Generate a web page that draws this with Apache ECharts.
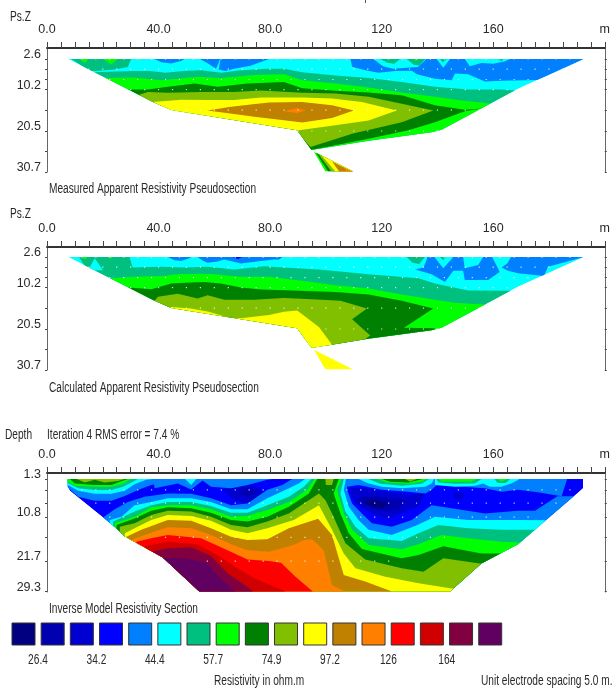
<!DOCTYPE html>
<html><head><meta charset="utf-8">
<style>html,body{margin:0;padding:0;background:#fff}#c{width:613px;height:694px}</style>
<script src="https://cdn.jsdelivr.net/npm/echarts@6/dist/echarts.min.js"></script>
</head><body><div id="c"></div>
<script>
// ---- scale ----
const xTickLabels = {0:'0.0',40:'40.0',80:'80.0',120:'120',160:'160',200:'m'};
const pseudoTicks = [2.6,5.1,7.7,10.2,15.3,20.5,25.6,30.7];
const pseudoLabels = [2.6,10.2,20.5,30.7];
const modelTicks = [1.3,4.05,7.3,10.8,15.8,21.7,29.3];
const modelLabels = [1.3,10.8,21.7,29.3];
const legendValues = ['26.4','34.2','44.4','57.7','74.9','97.2','126','164'];
const C = {navy:'#000080',b1:'#0000B0',b2:'#0000D0',b3:'#0000FF',lb:'#0080FF',cy:'#00FFFF',te:'#00C080',gr:'#00FF00',dk:'#008000',ol:'#80C000',ye:'#FFFF00',br:'#C08000',or:'#FF8000',re:'#FF0000',d0:'#D00000',ma:'#800040',pu:'#600060'};
const legendKeys = ['navy','b1','b2','b3','lb','cy','te','gr','dk','ol','ye','br','or','re','d0','ma','pu'];

// ---- section outlines (distance m, depth) ----
const pseudoOutline = [[7.6,2.6],[38,13.3],[44.5,15.3],[89.7,20.3],[94.8,25.2],[115.3,22.9],[137.9,20.8],[141.5,20.2],[152.2,16.2],[168.9,10],[192.5,2.6]];
const pseudoTail = [[95.6,25.6],[99.8,30.6],[110,30.6]];
const modelOutline = [[7.4,1.3],[7.4,3.2],[8.2,4.2],[20.1,10.9],[25.5,14],[27.9,15.6],[41.5,20.8],[54.6,29.3],[144.5,29.3],[155.8,22.3],[168.9,17.5],[190,5],[192.2,3.6],[192.2,1.3]];

// ---- measured pseudosection contours ----
const m_lb1 = [[38.6,2.6],[41,3.4],[44.5,3.7],[48,3.1],[49.3,2.6]];
const m_lb2 = [[54.9,2.6],[58.2,3.9],[60.6,5],[61.5,3.6],[62,2.6]];
const m_lb3 = [[62.2,2.6],[61.6,5.2],[64,5.6],[67,5],[73,4.3],[79.6,2.6]];
const m_lb4 = [[108.8,2.6],[109.4,4.5],[114.1,5.4],[118.9,6],[124.8,5.6],[130.8,5.5],[132.6,6.4],[139.1,7.5],[145.1,7.9],[146.3,6.2],[151,6.4],[157,8.2],[162.9,8],[176,7.8],[183,5.8],[192.5,2.6]];
const m_cyA = [[117,2.6],[120.5,4.4],[124,5],[129,4.8],[133,4.6],[136,2.6]];
const m_cyB = [[139.7,2.6],[142.1,4.8],[144.5,2.6]];
const m_cyC = [[149.8,2.6],[151.6,4.4],[155.8,3.6],[160,3.8],[164,3.2],[166,2.6]];
const m_teT1 = [[119.5,2.6],[122,3.5],[124.5,3.8],[126.6,2.6]];
const m_teT2 = [[129,2.6],[131.5,4],[133.5,4.2],[135.6,2.6]];
const m_teT3 = [[140.9,2.6],[142,3.4],[143.2,2.6]];
const m_teT4 = [[161.7,2.6],[163,3.2],[163.5,2.6]];
const m_grT2 = [[131.5,2.6],[132.2,3.1],[133,2.6]];
const m_teLeft = [[8.8,2.6],[13,4.5],[15.4,5.7],[24.3,5.2],[29,4.6],[30.2,2.6]];
const m_grL1 = [[11.8,2.6],[13.5,3.6],[15,2.6]];
const m_grL2 = [[20.1,2.6],[23,3.9],[25.5,2.6]];
const m_c1 = [[5,5.4],[16.5,5.9],[31.4,5.6],[37,5.6],[42.5,6],[49,5.6],[55.2,5.4],[62.5,6],[69.5,5.4],[79,5],[85,5],[91.5,5.9],[103.4,6.7],[115.3,7.3],[127.2,8.3],[139.1,9.5],[151,10.2],[162.9,10.2],[169,10.5],[195,10.5]];
const m_c2 = [[15,7.4],[31.4,7.2],[41,7.9],[54,7],[62.5,7.3],[74.5,6.6],[85,6.4],[91.5,7.9],[103.4,8.7],[115.3,9.7],[127.2,10.9],[139.1,12],[148.6,12.9],[158,13.6],[195,13.6]];
const m_dk = [[29.6,10.2],[36.2,10.2],[43.3,9.5],[52.9,8.7],[61.2,9.5],[71.9,8.7],[85,8.3],[91.5,9.9],[103.4,10.5],[115.3,10.9],[127.2,11.6],[139.1,14.1],[149.8,15.2],[155.8,14.9],[149.8,15.6],[139.1,18.3],[129.6,20.3],[115.3,22.4],[94.5,25.2],[88,21],[38,14],[25,10.5]];
const m_ol = [[36.2,10.8],[43.3,11],[55.2,10.8],[67.1,10.8],[76.7,10.4],[91.5,11],[103.4,11.2],[115.3,12],[127.2,13.7],[138.5,15.4],[127.2,18.3],[109.4,21.2],[94.5,24.5],[90,21],[40,15],[33,11.5]];
const m_ye = [[38,13.3],[48.1,12.7],[57.6,12.8],[67.1,12.8],[76.7,12.2],[91.5,12.2],[102.2,12.4],[112.9,13.3],[125.4,15.4],[115.3,17.9],[103.4,19.1],[89.7,20.4],[85,22],[40,17]];
const m_br = [[57.6,15.4],[66,14.5],[73,13.9],[79.6,13.4],[91.5,13.3],[102.2,14.1],[110,15.4],[102.2,17.3],[91.5,18.4],[85,17.8],[75,17],[67,16.3]];
const m_or = [[85,15.6],[89.7,14.8],[92.7,15.4],[89.7,16]];
const m_tailDk = [[96,25.4],[110,30.6],[100.8,30.6]];
const m_tailOl = [[96.6,25.6],[110,30.6],[102,30.6]];
const m_tailYe = [[98,26.2],[110,30.6],[103.4,30.6]];
const m_tailBr = [[102.2,28.1],[110,30.8],[105,30.8]];
const m_tailOr = [[106.4,29.6],[110,30.8],[107.6,30.8]];

// ---- calculated pseudosection contours ----
const c_lb1 = [[43.3,2.6],[45.7,3.4],[48.1,3.6],[50.5,3],[51.7,2.6]];
const c_lb2 = [[54,2.6],[55.9,3.5],[57.6,4],[61.2,3.7],[63.5,3.2],[69.5,4.2],[76.7,3.6],[81.4,3.2],[83.2,3.2],[84.4,2.6]];
const c_b3 = [[66.5,2.6],[68.5,3.1],[70,2.6]];
const c_lb3 = [[132,5.7],[135,5.2],[136.5,2.6],[138.9,2.6],[142.1,5.4],[145.7,2.6],[149.2,2.6],[149.8,5.4],[154.6,4.6],[156.4,2.6],[159.6,2.6],[161.7,5.4],[162.3,6.3],[158.2,8.3],[149.8,8.3],[149.2,6],[145.7,6],[142.7,8.8],[137.9,6.9]];
const c_lb4 = [[166.4,2.6],[165,4.2],[163,5.2],[165.3,6],[168.9,6.6],[178.2,7.3],[179.6,5],[192.5,2.6]];
const c_tePatch = [[129,2.6],[131,4],[133.5,4.3],[135.5,2.6]];
const c_teSmall = [[141,2.6],[142,3.4],[143,2.6]];
const c_teTop = [[11.5,2.6],[29.6,2.6],[30.8,5.4],[14,5.4]];
const c_cyWedge = [[17.1,2.9],[14.8,5.9],[20.1,5.9]];
const c_grA = [[12.5,2.6],[13.5,3.2],[14.5,2.6]];
const c_grB = [[22,2.6],[22.8,3],[23.6,2.6]];
const c_c1 = [[5,5.2],[30.8,5.2],[41,5],[49.3,5.2],[57.6,5],[67.1,5.7],[77.9,4.9],[85,5.2],[97.5,5.7],[115.3,6.9],[133.2,7.9],[139.1,9.2],[151,10.9],[165.3,11],[195,11]];
const c_c2 = [[22.5,7.9],[31.4,7.5],[41,7.3],[48.1,6.8],[58.9,6.8],[69.5,7.5],[79.6,7.5],[91.5,8.5],[103.4,9.6],[115.3,10.4],[127.2,11.9],[139.1,13.2],[146.3,14],[157,14.4],[195,14.4]];
const c_dk = [[29.6,10.2],[37.4,10.6],[44.5,9.2],[49.3,9],[56.4,8.8],[62.4,9.2],[69.5,10.2],[76.9,10.7],[87.9,10.9],[103.4,11.3],[115.3,11.9],[127.2,13.5],[138.5,15.4],[128,20.2],[139,20.3],[139,20.9],[128,22],[115,23],[100,25],[85,21],[40,16],[25,11]];
const c_ol = [[39.8,12.5],[46.9,11.7],[54,12.9],[57.6,12.1],[63.6,13.2],[74.3,13.2],[85,12.8],[95,13.1],[105.2,13.5],[114.7,15.4],[109.4,18.1],[115.9,22.1],[110,25],[100,26],[85,22],[45,17],[38,14]];
const c_ye = [[44.5,15],[51.7,15.4],[58,16.2],[65.9,17.8],[69.5,17.8],[79.6,17],[85,16.2],[89.7,15.9],[97.5,20],[102.2,24.4],[100,26],[88,24],[40,17]];

// ---- inverse model contours ----
const r_d0 = [[63,4],[67.1,3.6],[73.1,2.8],[76.7,4],[77.9,5.3],[73.1,7.4],[69.5,7],[66,6.1]];
const r_b1 = [[68.3,4],[71.9,3.6],[75.5,4.5],[72.5,5.7],[68.9,5]];
const l_strip = [[38,1.3],[38.6,3.6],[46.9,2.4],[51.7,3.9],[55.8,1.7],[58.8,3.2],[66,3.6],[71.9,2.8],[79,1.5],[80.8,1.3]];
const l_wedge = [[49.5,1.3],[51.7,2.8],[53.5,1.3]];
const l_rb = [[7,3.2],[11.2,5.7],[17.1,6.7],[23.1,6.7],[27.9,5.5],[32.6,4.05],[37.4,2.8],[42.7,2],[45.7,1.3],[7,1.3]];
const l_rc = [[7,2.6],[11.2,4.2],[17.1,5],[23.1,5],[27.9,4.2],[31.4,2.6],[35.6,1.5],[38,1.3],[7,1.3]];
const l_rt = [[7,2.2],[11.2,3.6],[17.1,4.05],[23.1,4.05],[27.3,3.2],[30.8,2],[32.6,1.3],[7,1.3]];
const l_rg = [[7,1.8],[10,3],[17.1,3.2],[23.1,3.2],[26.7,2.6],[29.6,1.5],[30.8,1.3],[7,1.3]];
const l_rd = [[8.2,1.3],[10,2.4],[17.1,2.8],[23.1,2.8],[26.1,2],[29,1.3]];
const l_ro = [[10.6,1.3],[13.6,2.2],[17.1,1.5],[20.7,2.2],[25.5,1.8],[27.9,1.3]];
const k_lb = [[15,10.9],[20.1,10.9],[24.3,8.85],[29,7],[35,5.7],[43.3,4.9],[51.7,5],[58.8,6.1],[66,7.8],[71.9,7.4],[79,4],[84.4,2.8],[87.9,1.3],[107.6,1.3],[107.6,4],[109.4,7.4],[112.9,9.85],[116.5,12.3],[123.6,13.15],[130.8,11.5],[137.9,7.8],[145.1,8.6],[157,9.85],[168.9,9.2],[175,9.2],[183,5.6],[195,5.6]];
const k_cy = [[22.5,11.5],[26.7,10.7],[31.4,7.8],[37.4,7],[43.3,6.1],[51.7,6.1],[58.8,7],[66,8.85],[71.9,8.85],[79,6.1],[85.6,4],[90.3,2.4],[92.5,1.3],[107.2,1.3],[106.4,4],[108.2,8.2],[111.7,11.5],[115.3,13.95],[123.6,15.25],[132,13],[139.1,10.7],[151,11.5],[162.9,11.5],[168.9,11.5],[195,11.6]];
const k_te = [[23.7,11.9],[31.4,9.4],[37.4,7.8],[43.3,7],[51.7,7],[58.8,8],[66,9.7],[71.9,9.7],[79,7.8],[86.7,5.7],[92.1,3.2],[94.8,1.3],[106.4,1.3],[105.2,4.9],[107,9.4],[110.6,13.15],[115.3,16.05],[127.2,16.7],[133.2,14.8],[140.3,12.75],[151,13.55],[162.9,13.95],[168.9,13.95],[195,13.95]];
const k_gr = [[24.3,12.3],[31.4,10.7],[37.4,8.35],[43.3,7.8],[51.7,7.8],[58.8,8.85],[66,10.7],[71.9,10.5],[79,9],[86.7,7],[93.3,4],[95.9,1.3],[105.6,1.3],[104,4],[106.4,9.85],[109.4,13.95],[115.3,17.7],[127.2,18.8],[133.2,17.5],[141.5,15.25],[151,16.05],[162.9,16.9],[168.9,17.1],[195,17.1]];
const k_dk = [[24.9,12.75],[31.4,11.1],[37.4,9.2],[43.3,8.35],[51.7,8.6],[58.8,9.7],[66,11.5],[71.9,11.9],[79,10.7],[86.7,8.2],[93.9,4.9],[96.9,1.3],[104.6,1.3],[102.8,4.9],[105.2,9.85],[108.2,14.8],[112.9,18.7],[123.6,20.45],[127.2,21],[133.2,20.2],[142.1,18],[155.8,19.8],[175,19.8]];
const k_ol = [[26.1,13.15],[31.4,12.3],[37.4,10.25],[43.3,9.2],[51.7,9.4],[58.8,10.7],[66,12.75],[71.9,13.3],[79,11.9],[86.7,9.85],[97.5,4.9],[99.8,6.5],[102.2,9.85],[107,17.3],[114.1,21.3],[127.2,23.5],[135,24.35],[142.1,21],[155.2,22.3],[175,22.3]];
const k_olTop = [[99.8,1.3],[102.8,1.3],[102.2,2.8],[100,2.8]];
const k_ye = [[27.9,14.8],[31.4,13.55],[37.4,11.5],[43.3,10.25],[51.7,10.5],[58.8,11.7],[66,13.95],[71.9,14.8],[79,13.55],[88.5,11.5],[97.5,7.8],[102.2,13.95],[106.4,19.8],[110.6,23.5],[121.3,25.6],[133.2,27.25],[145.1,28.5],[150,28.5]];
const k_br = [[28.5,15.65],[33.8,13.95],[43.3,11.5],[51.7,11.7],[58.8,13.55],[66,15.65],[71.9,16.5],[79,16.3],[86.7,13.55],[97.2,11.2],[102.2,15.25],[106.4,25.2],[114.1,26.8],[123,29.1],[125,30]];
const k_or = [[30.2,16.5],[35,15.25],[43.3,13.3],[51.7,13.55],[58.8,15.25],[66,17.5],[71.9,19],[79.6,19.4],[85.6,18.3],[89.1,17.5],[92.1,16.5],[95,16.3],[99.2,19],[102.2,27.7],[106.4,29.1],[107,30]];
const k_re = [[32,16.9],[37.4,16.05],[43.3,15.25],[55.2,16.05],[61.8,18.1],[71.9,21.3],[79.6,21.7],[83.9,22.1],[89.1,25.6],[95,29.1],[96,30]];
const k_d0 = [[35,18],[43.3,16.9],[54,17.5],[60.6,20],[68.3,23.5],[74.3,26],[85,29.1],[86,30]];
const k_ma = [[37.4,19.4],[43.3,18.55],[51.7,18.3],[58.8,20.45],[64.8,24.75],[73.7,29.1],[74,30]];
const k_pu = [[41.5,20.8],[49.3,21],[57.6,22.1],[61.8,25.6],[67.1,29.1],[68,30]];
const q_d0 = [[108.2,3.6],[114.1,3.6],[121.3,4.45],[129.6,5.3],[135.6,4.9],[133.2,8.2],[129.6,9],[122.5,11.1],[116.5,9.85],[110.6,7.4]];
const q_b1 = [[111.7,6.1],[115.3,5.3],[122.5,6.1],[128.4,6.5],[126,9],[121.3,9.4],[116.5,8.6]];
const q_na = [[112.3,7],[117.7,6.5],[122.5,7.4],[120.1,8.6],[116.5,8.2]];
const q_small = [[145.7,4.45],[149.8,4.9],[148.6,6.5],[145.7,6.1]];
const q_strip = [[107.6,1.3],[107.6,3.2],[111.7,2.8],[120.1,4],[129.6,4.45],[135.6,4.9],[137.9,4],[139.7,2.8],[157,3.6],[162.9,4.45],[168.9,4],[176,4.6],[184.5,5.6],[186.5,1.3]];
const q_c1 = [[111.7,1.3],[115.3,2.4],[120.1,3.2],[127.2,3.6],[135.6,3.2],[137.9,2.4],[138.8,1.3]];
const q_t1 = [[115.3,1.3],[119.5,2.5],[127.2,3],[134.4,2.5],[137,1.3]];
const q_g1 = [[118.3,1.3],[121.9,2.2],[129.6,2.5],[134.4,2],[136.1,1.3]];
const q_d1 = [[120.1,1.3],[123,2],[129.6,2.2],[133.2,1.55],[134.6,1.3]];
const q_o1 = [[128.4,1.3],[130.2,2],[132.6,1.3]];
const q_c2 = [[139.1,1.3],[139.1,2.8],[146.3,3.2],[153.4,3],[156.4,2.4],[158.8,3.2],[162.9,3.2],[166.5,2.4],[168.9,1.55],[169.3,1.3]];
const q_t2 = [[139.7,1.3],[140.3,2.2],[146.3,2.5],[153.4,2.4],[155.8,1.3]];
const q_g2 = [[140.3,1.3],[141.5,2],[152.2,2],[154,1.3]];
const q_t3 = [[160.5,1.3],[161.5,2.3],[164.5,2.3],[166,1.3]];
const q_g3 = [[161.5,1.3],[163,1.9],[165,1.3]];

// ---- data point rows: depth, first x, last x ----
const pseudoRows = [[2.6,12.5,187.5],[5.1,15,185],[7.7,22.5,177.5],[10.2,30,170],[15.3,45,155],[20.5,90,140]];
const modelRows = [[4,12.5,187.5],[7.3,17.5,182.5],[10.8,22.5,172.5],[15.8,42.5,142.5],[21.7,57.5,122.5]];
const electrodeStep = 5;

const below = c => c.concat([[c[c.length-1][0],33],[c[0][0],33]]);
const L = (key, pts, clip) => ({fill:C[key], pts, clip});

const measuredLayers = [
  L('cy',pseudoOutline,pseudoOutline),
  ...[m_lb1,m_lb2,m_lb3,m_lb4].map(p=>L('lb',p,pseudoOutline)),
  ...[m_cyA,m_cyB,m_cyC].map(p=>L('cy',p,pseudoOutline)),
  ...[m_teT1,m_teT2,m_teT3,m_teT4,m_teLeft].map(p=>L('te',p,pseudoOutline)),
  ...[m_grT2,m_grL1,m_grL2].map(p=>L('gr',p,pseudoOutline)),
  L('te',below(m_c1),pseudoOutline), L('gr',below(m_c2),pseudoOutline),
  L('dk',m_dk,pseudoOutline), L('ol',m_ol,pseudoOutline), L('ye',m_ye,pseudoOutline),
  L('br',m_br,pseudoOutline), L('or',m_or,pseudoOutline),
  L('gr',pseudoTail,pseudoTail), L('dk',m_tailDk,pseudoTail), L('ol',m_tailOl,pseudoTail),
  L('ye',m_tailYe,pseudoTail), L('br',m_tailBr,pseudoTail), L('or',m_tailOr,pseudoTail)
];
const calculatedLayers = [
  L('cy',pseudoOutline,pseudoOutline),
  ...[c_lb1,c_lb2,c_lb3,c_lb4].map(p=>L('lb',p,pseudoOutline)),
  L('b3',c_b3,pseudoOutline),
  ...[c_tePatch,c_teSmall,c_teTop].map(p=>L('te',p,pseudoOutline)),
  L('te',below(c_c1),pseudoOutline), L('cy',c_cyWedge,pseudoOutline),
  L('gr',c_grA,pseudoOutline), L('gr',c_grB,pseudoOutline),
  L('gr',below(c_c2),pseudoOutline), L('dk',c_dk,pseudoOutline), L('ol',c_ol,pseudoOutline), L('ye',c_ye,pseudoOutline),
  L('ye',pseudoTail,pseudoTail)
];
const modelLayers = [
  L('b3',modelOutline,modelOutline),
  L('b2',r_d0,modelOutline), L('b1',r_b1,modelOutline),
  L('b2',q_d0,modelOutline), L('b1',q_b1,modelOutline), L('navy',q_na,modelOutline), L('b2',q_small,modelOutline),
  L('lb',l_strip,modelOutline), L('cy',l_wedge,modelOutline), L('lb',q_strip,modelOutline),
  L('lb',below(k_lb),modelOutline), L('cy',below(k_cy),modelOutline), L('te',below(k_te),modelOutline),
  L('gr',below(k_gr),modelOutline), L('dk',below(k_dk),modelOutline), L('ol',below(k_ol),modelOutline),
  L('ol',k_olTop,modelOutline),
  L('ye',below(k_ye),modelOutline), L('br',below(k_br),modelOutline), L('or',below(k_or),modelOutline),
  L('re',below(k_re),modelOutline), L('d0',below(k_d0),modelOutline), L('ma',below(k_ma),modelOutline), L('pu',below(k_pu),modelOutline),
  L('lb',l_rb,modelOutline), L('cy',l_rc,modelOutline), L('te',l_rt,modelOutline), L('gr',l_rg,modelOutline), L('dk',l_rd,modelOutline), L('ol',l_ro,modelOutline),
  L('cy',q_c1,modelOutline), L('te',q_t1,modelOutline), L('gr',q_g1,modelOutline), L('dk',q_d1,modelOutline), L('ol',q_o1,modelOutline),
  L('cy',q_c2,modelOutline), L('te',q_t2,modelOutline), L('gr',q_g2,modelOutline), L('te',q_t3,modelOutline), L('gr',q_g3,modelOutline)
];

const FONT = '"Liberation Sans",Arial,sans-serif';
const INK = '#2a2a2a';
const panels = [
  {top:48, height:124, min:-0.14, max:30.7, ticks:pseudoTicks, labels:pseudoLabels, layers:measuredLayers, rows:pseudoRows},
  {top:247,height:123, min:0.1, max:30.7, ticks:pseudoTicks, labels:pseudoLabels, layers:calculatedLayers, rows:pseudoRows},
  {top:473,height:119, min:-0.19, max:29.4, ticks:modelTicks, labels:modelLabels, layers:modelLayers, rows:modelRows}
];
const grid=[], xAxis=[], yAxis=[], series=[];
panels.forEach((p,i)=>{
  grid.push({left:47,width:560,top:p.top,height:p.height});
  xAxis.push({type:'value',gridIndex:i,position:'top',min:0,max:200,interval:5,
    axisLine:{show:true,onZero:false,lineStyle:{color:'#333',width:2}},
    axisTick:{show:true,length:6,inside:false,lineStyle:{color:'#444',width:1}},
    splitLine:{show:false},
    axisLabel:{show:true,margin:12,interval:0,color:INK,fontFamily:FONT,fontSize:12.5,hideOverlap:false,showMinLabel:true,showMaxLabel:true,
      formatter:v=>xTickLabels[v]||''}});
  [['left',true],['right',false]].forEach(([pos,lab])=>{
    yAxis.push({type:'value',gridIndex:i,position:pos,inverse:true,min:p.min,max:p.max,
      axisLine:{show:true,onZero:false,lineStyle:{color:'#666',width:1}},
      axisTick:{show:true,length:2,customValues:p.ticks,lineStyle:{color:'#444'}},
      splitLine:{show:false},
      axisLabel:{show:lab,margin:6,color:INK,fontFamily:FONT,fontSize:12.5,customValues:p.labels,verticalAlign:'bottom',lineHeight:9,formatter:v=>String(v)}});
  });
  const layers=p.layers;
  series.push({type:'custom',coordinateSystem:'cartesian2d',xAxisIndex:i,yAxisIndex:i*2,silent:true,clip:false,
    data:layers.map((l,k)=>[k]),
    encode:{},
    renderItem:(params,api)=>{
      const l=layers[api.value(0)];
      return {type:'polygon',shape:{points:l.pts.map(q=>api.coord(q))},style:{fill:l.fill,stroke:null},
        clipPath:{type:'polygon',shape:{points:l.clip.map(q=>api.coord(q))}}};
    }});
  const dots=[];
  p.rows.forEach(r=>{for(let x=r[1];x<=r[2];x+=electrodeStep)dots.push([x,r[0]]);});
  series.push({type:'scatter',xAxisIndex:i,yAxisIndex:i*2,silent:true,symbol:'rect',symbolSize:1.2,
    itemStyle:{color:'#fff'},data:dots,z:5,animation:false});
});

const TEXT_SQUEEZE = 0.725;
const text=(t,x,y,extra)=>({type:'text',x,y,scaleX:TEXT_SQUEEZE,silent:true,style:Object.assign({text:t,fill:INK,font:'14px '+FONT,textVerticalAlign:'middle'},extra||{})});
const graphic=[
  text('Ps.Z',10,17), text('Measured Apparent Resistivity Pseudosection',49,189),
  text('Ps.Z',10,214), text('Calculated Apparent Resistivity Pseudosection',49,388),
  text('Depth',5,435), text('Iteration 4 RMS error = 7.4 %',47,435),
  text('Inverse Model Resistivity Section',49,609),
  text('Resistivity in ohm.m',214,681), text('Unit electrode spacing 5.0 m.',481,681),
  {type:'line',silent:true,shape:{x1:365.5,y1:0,x2:365.5,y2:3},style:{stroke:'#555',lineWidth:1}}
];
legendKeys.forEach((k,i)=>{
  graphic.push({type:'rect',silent:true,shape:{x:12+i*29.17,y:623,width:23,height:22},style:{fill:C[k],stroke:'#333',lineWidth:1}});
});
legendValues.forEach((v,i)=>{
  graphic.push(text(v,38+i*58.4,660,{textAlign:'center'}));
});

const chart=echarts.init(document.getElementById('c'),null,{renderer:'canvas'});
chart.setOption({animation:false,backgroundColor:'#fff',grid,xAxis,yAxis,series,graphic});
</script></body></html>
